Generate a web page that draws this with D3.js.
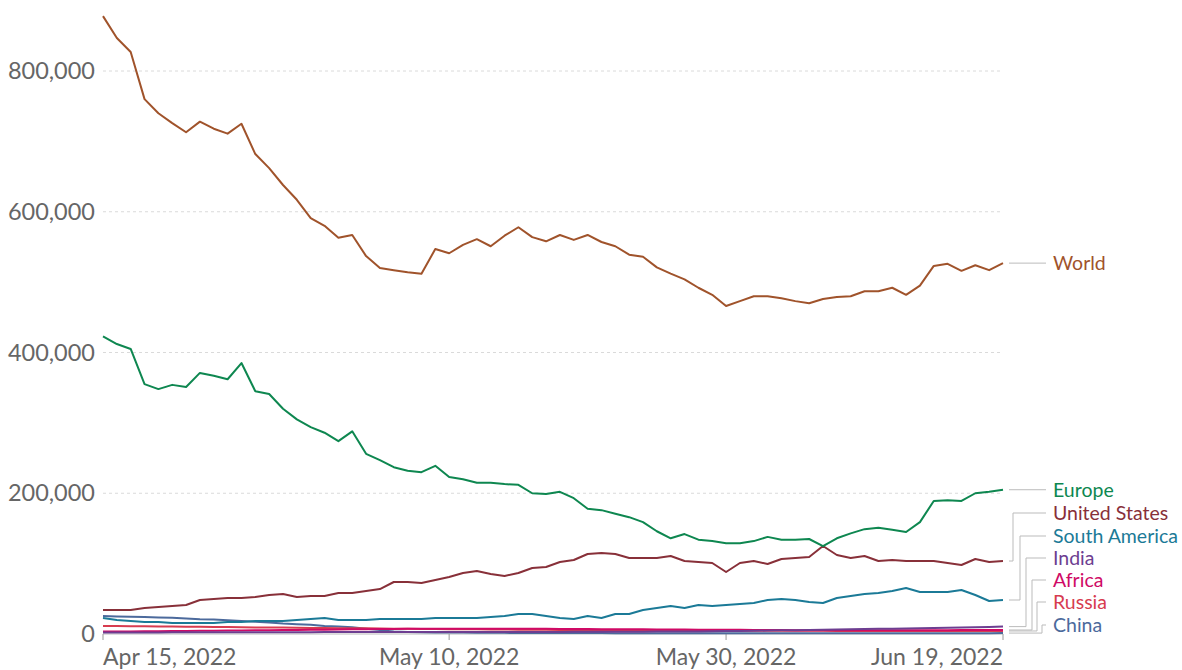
<!DOCTYPE html>
<html>
<head>
<meta charset="utf-8">
<script src="https://cdn.jsdelivr.net/npm/d3@7"></script>
<style>
  html, body { margin: 0; padding: 0; background: #fff; }
  svg { display: block; font-family: Lato, "Open Sans", sans-serif; }
</style>
</head>
<body>
<svg id="chart" width="1182" height="670"></svg>
<script>
// ---- data (values in thousands of cases, 7-day smoothed, daily Apr 15 – Jun 19, 2022) ----
const startDate = "2022-04-15";
const endDate = "2022-06-19";

const world = [878,847,827,760,740,726,713,728,718,711,
  725,682,662,638,617,591,580,563,567,537,
  520,517,514,512,547,541,553,561,551,566,
  578,564,558,567,560,567,557,551,539,536,
  521,512,504,492,482,466,473,480,480,477,
  473,470,476,479,480,487,487,492,482,495,
  523,526,516,524,517,527];

const europe = [423,412,405,355,348,354,351,371,367,362,
  385,345,341,320,305,294,286,274,288,256,
  247,237,232,230,239,223,220,215,215,213,
  212,200,199,202,193,178,176,171,166,159,
  146,136,142,134,132,129,129,132,138,134,
  134,135,125,136,143,149,151,148,145,159,
  189,190,189,200,202,205];

const unitedStates = [34.1,34.1,34.1,36.9,38.4,39.8,41.2,48.3,49.7,51.2,
  51.2,52.6,55.4,56.8,52.6,54,54,58.3,58.3,61.1,
  63.9,73.9,73.9,72.5,76.7,81,86.7,89.5,85.3,82.4,
  86.7,93.8,95.2,102.3,105.2,113.7,115.1,113.7,108,108,
  108,110.8,103.7,102.3,100.9,88.1,100.9,103.7,99.5,106.6,
  108,109.4,125,112.3,108,110.8,103.7,105.2,103.7,103.7,
  103.7,100.9,98,106.6,102.3,103.7];

const southAmerica = [22.7,19.9,18.5,17,17,15.6,15.6,15.6,15.6,17,
  17,18.5,18.5,18.5,19.9,21.3,22.7,19.9,19.9,19.9,
  21.3,21.3,21.3,21.3,22.7,22.7,22.7,22.7,24.2,25.6,
  28.4,28.4,25.6,22.7,21.3,25.6,22.7,28.4,28.4,34.1,
  36.9,39.8,36.9,41.2,39.8,41.2,42.6,44,48.3,49.7,
  48.3,45.5,44,51.2,54,56.8,58.3,61.1,65.3,59.7,
  59.7,59.7,62.5,55.4,46.9,48.3];

const india = [2.2,2.2,2.3,2.3,2.3,2.4,2.4,2.4,2.5,2.5,
  2.5,2.5,2.6,2.6,2.6,2.6,2.7,2.7,2.7,2.7,
  2.8,2.8,2.8,2.8,2.8,2.9,2.9,2.9,2.9,3,
  3,3,3,3,3.1,3.1,3.1,3.2,3.2,3.3,
  3.4,3.5,3.6,3.7,3.9,4.1,4.3,4.6,4.9,5.2,
  5.5,5.8,6.1,6.4,6.7,7,7.3,7.6,7.9,8.2,
  8.5,8.9,9.3,9.7,10.1,10.5];

const africa = [3.5,3.6,3.7,3.9,4,4.1,4.3,4.5,4.6,4.8,
  5,5.2,5.4,5.6,5.8,6,6.2,6.4,6.6,6.8,
  7,7.2,7.3,7.4,7.5,7.5,7.6,7.6,7.5,7.5,
  7.4,7.3,7.3,7.2,7.1,7,6.9,6.8,6.7,6.6,
  6.5,6.4,6.3,6.2,6.1,6,5.9,5.8,5.7,5.6,
  5.5,5.4,5.3,5.3,5.2,5.2,5.2,5.2,5.3,5.4,
  5.5,5.5,5.6,5.6,5.7,5.7];

const russia = [11.4,11.2,11,10.9,10.7,10.5,10.3,10.2,10,9.8,
  9.6,9.4,9.3,9.1,8.9,8.7,8.5,8.3,8.1,8,
  7.8,7.6,7.4,7.2,7,6.9,6.8,6.6,6.5,6.3,
  6.2,6,5.9,5.8,5.7,5.6,5.5,5.4,5.3,5.2,
  5.1,5,5,4.9,4.8,4.8,4.7,4.7,4.6,4.6,
  4.5,4.5,4.5,4.4,4.4,4.4,4.3,4.3,4.3,4.3,
  4.3,4.3,4.3,4.3,4.3,4.3];

const china = [25.6,25,24.5,24,23.5,23,22,21,20.5,19.5,
  18.5,17.5,16.5,15,14,13,11.5,10.5,9.5,7.5,
  5.5,3.5,3,2.5,2.2,2,2,1.8,1.8,1.6,
  1.5,1.5,1.4,1.4,1.3,1.3,1.3,1.2,1.2,1.2,
  1.2,1.1,1.1,1.1,1.1,1,1,1,1,1,
  1,1,1,1,1,1,1,1.1,1.1,1.1,
  1.1,1.1,1.2,1.2,1.2,1.3];

const seriesNames = ["China","Russia","Africa","India","South America","United States","Europe","World"];
const seriesValues = [china, russia, africa, india, southAmerica, unitedStates, europe, world];
const seriesColors = ["#4c6a9c","#d73c50","#cf0a66","#6d3e91","#1b7a97","#883039","#0e8750","#a0532b"];

const yTicks = [0, 200000, 400000, 600000, 800000];
const xTickDates = ["2022-04-15","2022-05-10","2022-05-30","2022-06-19"];
const xTickLabels = ["Apr 15, 2022","May 10, 2022","May 30, 2022","Jun 19, 2022"];

// label order on the right, top to bottom
const labelOrder = ["World","Europe","United States","South America","India","Africa","Russia","China"];

// ---- drawing ----
const parse = d3.utcParse("%Y-%m-%d");
const dates = d3.utcDay.range(parse(startDate), d3.utcDay.offset(parse(endDate), 1));

const svg = d3.select("#chart");
const x = d3.scaleUtc().domain([parse(startDate), parse(endDate)]).range([103, 1003]);
const y = d3.scaleLinear().domain([0, 800000]).range([634, 71]);

// grid
svg.append("g").selectAll("line").data(yTicks.filter(d => d > 0)).join("line")
  .attr("x1", x.range()[0]).attr("x2", x.range()[1])
  .attr("y1", d => y(d)).attr("y2", d => y(d))
  .attr("stroke", "#dadada").attr("stroke-width", 1).attr("stroke-dasharray", "3,3");

// y labels
svg.append("g").selectAll("text").data(yTicks).join("text")
  .attr("x", 95).attr("y", d => y(d)).attr("dy", "0.35em")
  .attr("text-anchor", "end").attr("fill", "#666").style("font-size", "23.5px")
  .text(d => d3.format(",")(d));

// x axis baseline & ticks
svg.append("line").attr("x1", x.range()[0]).attr("x2", x.range()[1])
  .attr("y1", y(0)).attr("y2", y(0)).attr("stroke", "#bbb").attr("stroke-width", 1);
const xt = xTickDates.map(parse);
svg.append("g").selectAll("line").data(xt).join("line")
  .attr("x1", d => x(d)).attr("x2", d => x(d))
  .attr("y1", y(0)).attr("y2", y(0) + 6)
  .attr("stroke", "#999").attr("stroke-width", 1);
svg.append("g").selectAll("text").data(xt).join("text")
  .attr("x", d => x(d)).attr("y", 665)
  .attr("text-anchor", (d, i) => i === 0 ? "start" : (i === xt.length - 1 ? "end" : "middle"))
  .attr("fill", "#666").style("font-size", "23px")
  .text((d, i) => xTickLabels[i]);

// lines
const line = d3.line().x((d, i) => x(dates[i])).y(d => y(d * 1000));
svg.append("g").selectAll("path").data(seriesValues).join("path")
  .attr("d", d => line(d))
  .attr("fill", "none")
  .attr("stroke", (d, i) => seriesColors[i])
  .attr("stroke-width", 2)
  .attr("stroke-linejoin", "round");

// right labels with leader lines
const labelY = [263, 489, 513, 536, 558, 580, 602, 625];
const elbowX = [null, null, 1013, 1020, 1026, 1032, 1037, 1042];
const lastDate = dates[dates.length - 1];
const g = svg.append("g");
labelOrder.forEach((name, k) => {
  const idx = seriesNames.indexOf(name);
  const vals = seriesValues[idx];
  const endY = y(vals[vals.length - 1] * 1000);
  const sx = x(lastDate) + 6;
  const ly = labelY[k];
  let pts;
  if (elbowX[k] == null) {
    pts = [[sx, endY], [1046, endY]];
  } else {
    pts = [[sx, endY], [elbowX[k], endY], [elbowX[k], ly], [1046, ly]];
  }
  g.append("path").attr("d", d3.line()(pts))
    .attr("fill", "none").attr("stroke", "#bbb").attr("stroke-width", 1);
  g.append("text").attr("x", 1053).attr("y", elbowX[k] == null ? endY : ly).attr("dy", "0.35em")
    .attr("fill", seriesColors[idx]).style("font-size", "19.5px").text(name);
});
</script>
</body>
</html>
